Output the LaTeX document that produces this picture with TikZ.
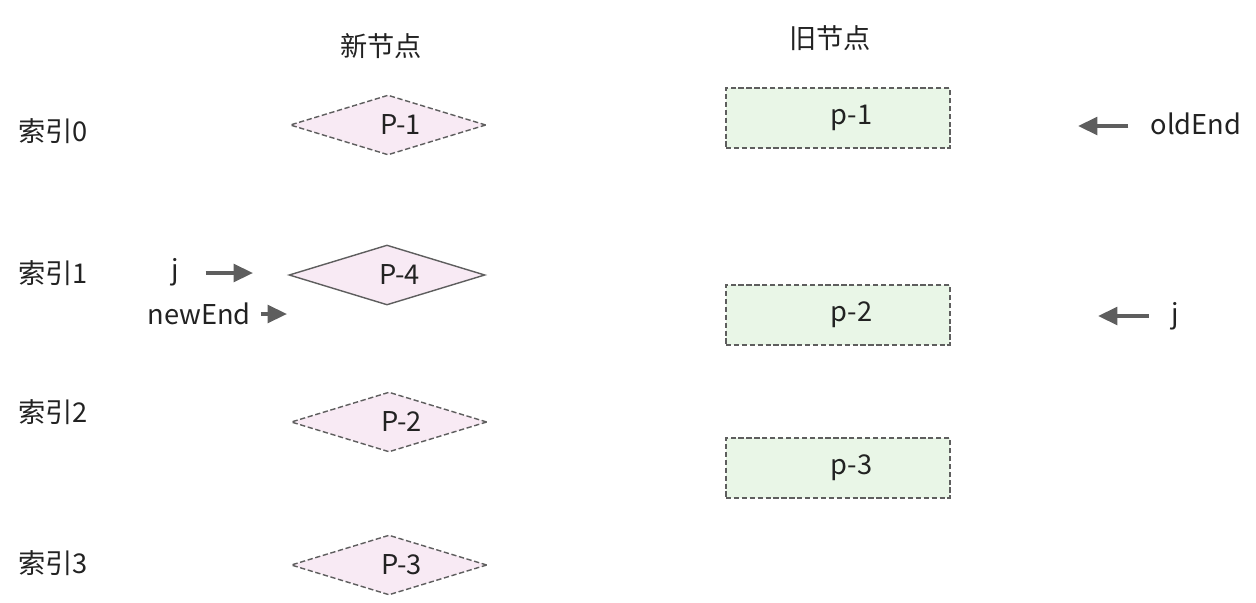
\documentclass[tikz,border=0pt]{standalone}
\usepackage{fontspec}
\setmainfont{Noto Sans CJK SC}
\usetikzlibrary{shapes.geometric,arrows.meta}
\definecolor{newfill}{HTML}{F8EAF4}
\definecolor{oldfill}{HTML}{E9F6E7}
\definecolor{edge}{HTML}{5E5E5E}
\definecolor{ink}{HTML}{222222}
\def\ptr{\draw[line width=2pt,edge,-{Triangle[length=11pt,width=10pt]}]}

\begin{document}
\begin{tikzpicture}[x=0.02cm,y=-0.02cm,
    every node/.style={font=\fontsize{15.5}{18}\selectfont,text=ink},
    newnode/.style={diamond,aspect=3.3,inner sep=0pt,minimum width=3.92cm,minimum height=1.2cm,
        fill=newfill,draw=edge,line width=0.8pt,dash pattern=on 3pt off 1.5pt,
        execute at begin node=\hspace*{0.5cm}},
    oldnode/.style={rectangle,inner sep=0pt,minimum width=4.48cm,minimum height=1.2cm,
        fill=oldfill,draw=edge,line width=0.8pt,dash pattern=on 3pt off 1.5pt,
        execute at begin node=\hspace*{0.55cm}},
    tag/.style={inner sep=0pt}]
    \useasboundingbox (0,0) rectangle (1256,602);
    % column titles
    \node (newtitle) at (381,46) {新节点};
    \node (oldtitle) at (830,38) {旧节点};
    \foreach \i/\y in {0/131,1/273,2/412,3/563}
        \node[anchor=west,tag] (idx\i) at (18,\y) {索引\i};
    % new children
    \node[newnode] (n1) at (388,125) {P-1};
    \node[newnode,solid] (n4) at (387,275) {P-4};
    \node[newnode] (n2) at (389,422) {P-2};
    \node[newnode] (n3) at (389,565) {P-3};
    % old children
    \node[oldnode] (o1) at (838,118) {p-1};
    \node[oldnode] (o2) at (838,315) {p-2};
    \node[oldnode] (o3) at (838,468) {p-3};
    % pointers
    \node[tag] (jnew) at (175,272) {j};
    \node[tag] (newend) at (199,314) {newEnd};
    \node[tag] (oldend) at (1196,124) {oldEnd};
    \node[tag] (jold) at (1175,316) {j};
    \coordinate (jnewtip) at (253,273);
    \coordinate (newendtip) at (287,314);
    \coordinate (oldendtip) at (1078,126);
    \coordinate (joldtip) at (1098,316);
    \ptr[shorten <=0.53cm] (jnewtip -| jnew.east) -- (jnewtip);
    \ptr[shorten <=0.2cm] (newendtip -| newend.east) -- (newendtip);
    \ptr[shorten <=0.44cm] (oldendtip -| oldend.west) -- (oldendtip);
    \ptr[shorten <=0.44cm] (joldtip -| jold.west) -- (joldtip);
\end{tikzpicture}
\end{document}
